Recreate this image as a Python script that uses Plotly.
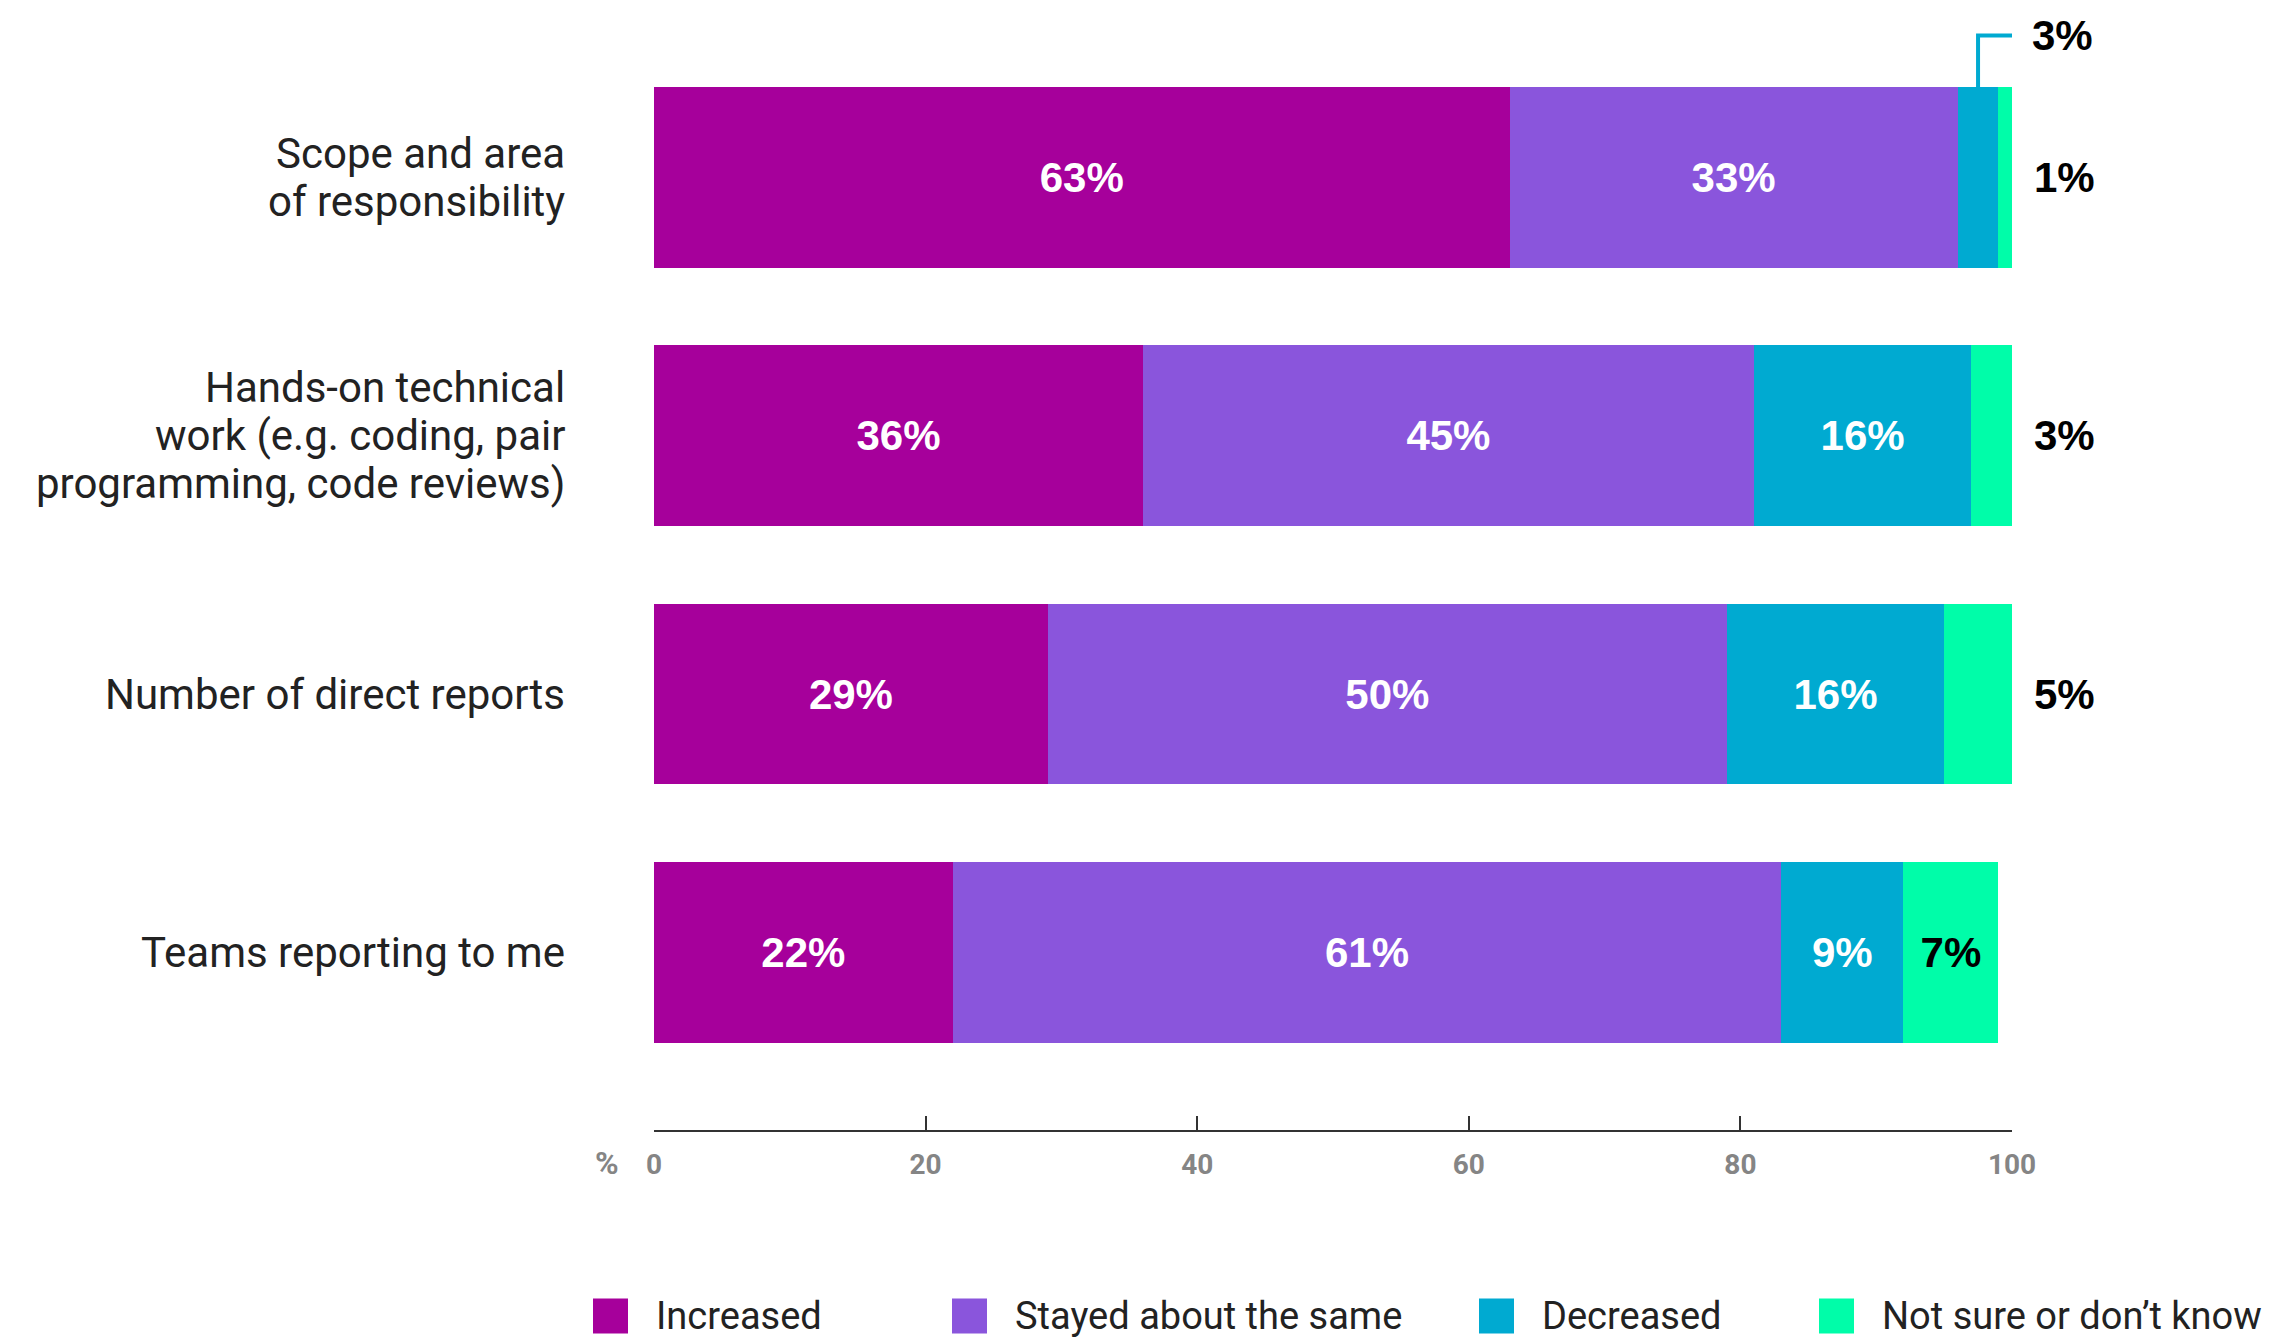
import plotly.graph_objects as go

# Survey data: change in managers' responsibilities
categories = [
    "Scope and area<br>of responsibility",
    "Hands-on technical<br>work (e.g. coding, pair<br>programming, code reviews)",
    "Number of direct reports",
    "Teams reporting to me",
]
series_names = ["Increased", "Stayed about the same", "Decreased", "Not sure or don\u2019t know"]
increased = [63, 36, 29, 22]
stayed = [33, 45, 50, 61]
decreased = [3, 16, 16, 9]
not_sure = [1, 3, 5, 7]
x_ticks = [0, 20, 40, 60, 80, 100]

colors = ["#A6009B", "#8A55DC", "#00AAD1", "#00FDA9"]
label_colors = ["white", "white", "white", "black"]

W, H = 2280, 1338
L, R, T, B = 654, 268, 0, 208
PLOT_W, PLOT_H = W - L - R, H - T - B
Y_RANGE = [3.688, -0.687]
ROW_PX = PLOT_H / (Y_RANGE[0] - Y_RANGE[1])
MIN_INSIDE = 7  # smaller segments get their label outside the bar

series = [increased, stayed, decreased, not_sure]
rows = list(range(len(categories)))

fig = go.Figure()
for name, vals, col, tcol in zip(series_names, series, colors, label_colors):
    fig.add_trace(go.Bar(
        y=rows, x=vals, orientation="h", name=name, width=0.7,
        marker=dict(color=col, line=dict(width=0)),
        text=[f"{v}%" if v >= MIN_INSIDE else "" for v in vals],
        textposition="inside", insidetextanchor="middle", textangle=0,
        textfont=dict(family="Liberation Sans", size=42, color=tcol, weight=700),
        hoverinfo="skip", showlegend=False,
    ))

annotations = []
shapes = []
pct_font = dict(family="Liberation Sans", size=42, color="black", weight=700)

# Category labels, right-aligned to the left of the bars
line_step = 48 / ROW_PX
for i, cat in enumerate(categories):
    lines = cat.split("<br>")
    n = len(lines)
    for j, line in enumerate(lines):
        annotations.append(dict(
            x=0, xref="paper", y=i + (j - (n - 1) / 2) * line_step, yref="y",
            text=line, showarrow=False, xanchor="right", yanchor="middle",
            xshift=-87, font=dict(family="Roboto", size=42, color="#222222"),
        ))

# Labels for narrow segments
for i in rows:
    total = sum(s[i] for s in series)
    cum_before_dec = increased[i] + stayed[i]
    if decreased[i] < MIN_INSIDE:
        mid = cum_before_dec + decreased[i] / 2
        y_top = i - 0.35
        y_lab = i - 0.55
        shapes.append(dict(
            type="path", xref="x", yref="y",
            path=f"M {mid} {y_top} L {mid} {y_lab} L {total} {y_lab}",
            line=dict(color=colors[2], width=4),
        ))
        annotations.append(dict(
            x=total, y=y_lab, xref="x", yref="y", text=f"{decreased[i]}%",
            showarrow=False, xanchor="left", yanchor="middle", xshift=18, font=pct_font,
        ))
    if not_sure[i] < MIN_INSIDE:
        annotations.append(dict(
            x=total, y=i, xref="x", yref="y", text=f"{not_sure[i]}%",
            showarrow=False, xanchor="left", yanchor="middle", xshift=20, font=pct_font,
        ))

# Axis unit marker
annotations.append(dict(
    x=0, xref="paper", y=-33 / PLOT_H, yref="paper", text="%", showarrow=False,
    xanchor="center", yanchor="middle", xshift=-47,
    font=dict(family="Roboto", size=32, color="#858585", weight=700),
))


def px_x(px):
    return (px - L) / PLOT_W


def px_y(py):
    return (T + PLOT_H - py) / PLOT_H


# Legend drawn as square swatches with labels
legend_left = [593, 952, 1479, 1819]
sw = 35
cy = 1316
for name, col, lx in zip(series_names, colors, legend_left):
    shapes.append(dict(
        type="rect", xref="paper", yref="paper",
        x0=px_x(lx), x1=px_x(lx + sw), y0=px_y(cy + sw / 2), y1=px_y(cy - sw / 2),
        fillcolor=col, line=dict(width=0),
    ))
    annotations.append(dict(
        x=px_x(lx + 61), y=px_y(cy), xref="paper", yref="paper", text=name,
        showarrow=False, xanchor="left", yanchor="middle",
        font=dict(family="Roboto", size=38, color="#222222"),
    ))

fig.update_layout(
    width=W, height=H, barmode="stack",
    margin=dict(l=L, r=R, t=T, b=B, pad=0),
    paper_bgcolor="white", plot_bgcolor="white",
    xaxis=dict(
        range=[0, 100], tickvals=x_ticks, ticktext=[str(t) for t in x_ticks],
        ticks="inside", ticklen=14, tickwidth=1.5, tickcolor="#333333",
        showline=True, linecolor="#333333", linewidth=2,
        showgrid=False, zeroline=False, ticklabelstandoff=8,
        tickfont=dict(family="Roboto", size=28, color="#858585", weight=700),
        fixedrange=True,
    ),
    yaxis=dict(range=Y_RANGE, visible=False, fixedrange=True),
    shapes=shapes, annotations=annotations,
    showlegend=False,
)

fig.write_html("out.html")
